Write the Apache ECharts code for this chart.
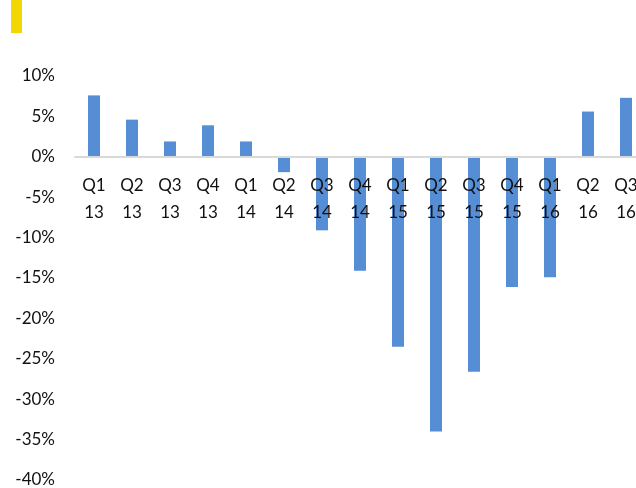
<!DOCTYPE html>
<html>
<head>
<meta charset="utf-8">
<script src="https://cdn.jsdelivr.net/npm/echarts@6/dist/echarts.min.js"></script>
<style>
  html, body { margin: 0; padding: 0; background: #fff; }
  #chart { width: 636px; height: 488px; }
</style>
</head>
<body>
<div id="chart"></div>
<script>
let quarters = ['Q1\n13', 'Q2\n13', 'Q3\n13', 'Q4\n13', 'Q1\n14', 'Q2\n14', 'Q3\n14', 'Q4\n14',
  'Q1\n15', 'Q2\n15', 'Q3\n15', 'Q4\n15', 'Q1\n16', 'Q2\n16', 'Q3\n16']
let growth = [7.6, 4.6, 1.9, 3.9, 1.9, -1.9, -9.1, -14.1, -23.5, -34.0, -26.6, -16.1, -14.9, 5.6, 7.3]

let chart = echarts.init(document.getElementById('chart'))
let option = {
  backgroundColor: '#fff',
  animation: false,
  textStyle: { fontFamily: 'Lato' },
  graphic: [{
    type: 'rect',
    left: 11, top: 0,
    shape: { width: 11, height: 33 },
    style: { fill: '#f2d700' }
  }],
  grid: {
    left: 75,
    top: 76,
    width: 570,
    height: 404,
    containLabel: false,
    outerBoundsMode: 'none'
  },
  xAxis: {
    type: 'category',
    data: quarters,
    position: 'bottom',
    // axis sits on the 0% line (grid bottom is -40%)
    offset: -323,
    z: 10,
    axisLine: {
      onZero: false,
      lineStyle: { color: '#d9d9d9', width: 2 }
    },
    axisTick: { show: false },
    axisLabel: {
      interval: 0,
      color: '#111',
      fontSize: 17,
      lineHeight: 27,
      margin: 15
    }
  },
  yAxis: {
    type: 'value',
    min: -40,
    max: 10,
    interval: 5,
    splitLine: { show: false },
    axisLine: { show: false },
    axisTick: { show: false },
    axisLabel: {
      color: '#111',
      fontSize: 17,
      margin: 20,
      formatter: '{value}%'
    }
  },
  series: [{
    type: 'bar',
    barWidth: 12,
    itemStyle: { color: '#558ed5' },
    data: growth
  }]
}
chart.setOption(option)
</script>
</body>
</html>
